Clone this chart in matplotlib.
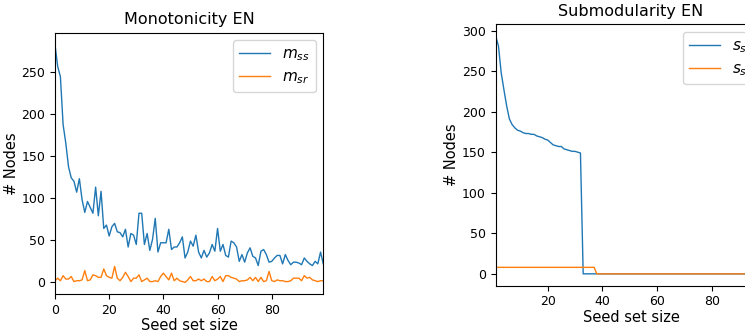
import numpy as np
import matplotlib
matplotlib.use('Agg')
import matplotlib.pyplot as plt

# seed set sizes
seeds_mono = list(range(0, 100))
seeds_sub = list(range(1, 101))

# monotonicity values
m_ss = [282, 256, 244, 187, 165, 137, 124, 120, 107, 123,
        98, 83, 96, 89, 82, 113, 79, 108, 64, 68,
        55, 66, 70, 60, 59, 54, 63, 42, 58, 56,
        45, 82, 82, 45, 58, 38, 51, 76, 36, 47,
        47, 47, 63, 39, 42, 42, 47, 54, 29, 36,
        49, 43, 56, 36, 29, 38, 30, 35, 45, 37,
        64, 37, 45, 32, 30, 49, 47, 42, 25, 33,
        24, 35, 41, 31, 29, 20, 37, 39, 33, 24,
        25, 29, 32, 32, 22, 33, 26, 21, 24, 24,
        23, 21, 29, 25, 22, 20, 25, 22, 36, 22]
m_sr = [2, 5, 2, 8, 4, 4, 7, 1, 2, 2,
        3, 14, 2, 3, 9, 8, 6, 6, 16, 8,
        6, 5, 19, 5, 2, 6, 12, 7, 1, 5,
        5, 9, 1, 3, 5, 1, 1, 2, 1, 7,
        11, 7, 3, 11, 2, 5, 2, 1, 0, 3,
        7, 2, 2, 4, 2, 4, 1, 1, 7, 2,
        4, 7, 1, 8, 8, 6, 5, 4, 1, 2,
        2, 3, 6, 2, 6, 1, 6, 1, 2, 13,
        2, 1, 3, 2, 2, 1, 1, 2, 5, 5,
        5, 2, 8, 5, 6, 3, 2, 1, 2, 2]

# submodularity values
s_ss = [293, 281, 248, 227, 207, 191, 184, 180, 177, 176,
        174, 173, 173, 172, 172, 170, 169, 168, 166, 165,
        162, 159, 158, 157, 157, 154, 153, 152, 151, 151,
        150, 149] + [0] * 68
s_sr = [8] * 37 + [0] * 63

fig = plt.figure(figsize=(7.45, 3.33), dpi=100)

ax1 = fig.add_axes([0.0738, 0.1162, 0.3601, 0.7856])
ax1.plot(seeds_mono, m_ss, lw=1.0, label='$m_{ss}$')
ax1.plot(seeds_mono, m_sr, lw=1.0, label='$m_{sr}$')
ax1.set_xlim(0, 99)
ax1.set_title('Monotonicity EN', fontsize=11.5)
ax1.set_xlabel('Seed set size', fontsize=10.5, labelpad=0.5)
ax1.set_ylabel('# Nodes', fontsize=10.5, labelpad=2)
ax1.tick_params(labelsize=9)
ax1.legend(loc='upper right', fontsize=11, labelspacing=0.4)

ax2 = fig.add_axes([0.6654, 0.1420, 0.3632, 0.7850])
ax2.plot(seeds_sub, s_ss, lw=1.0, label='$s_{ss}$')
ax2.plot(seeds_sub, s_sr, lw=1.0, label='$s_{sr}$')
ax2.set_xlim(1, 100)
ax2.set_title('Submodularity EN', fontsize=11.5)
ax2.set_xlabel('Seed set size', fontsize=10.5, labelpad=1)
ax2.set_ylabel('# Nodes', fontsize=10.5, labelpad=2)
ax2.tick_params(labelsize=9)
ax2.legend(loc='upper right', fontsize=11, labelspacing=0.4)

plt.savefig('out.png', dpi=100)
